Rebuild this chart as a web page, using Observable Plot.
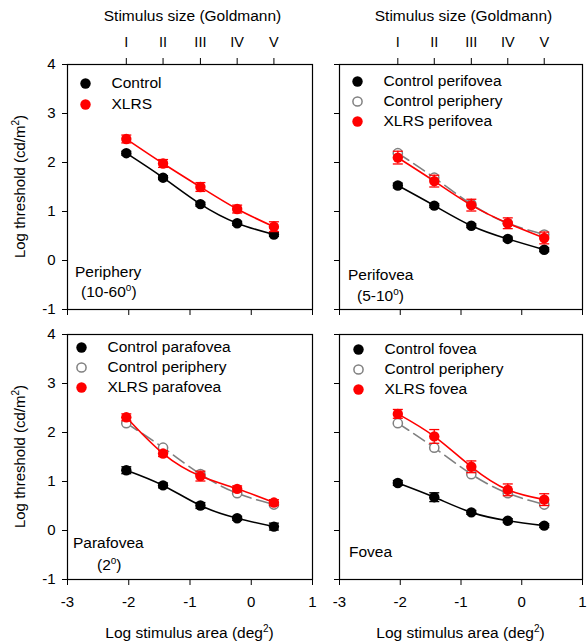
<!DOCTYPE html>
<html><head><meta charset="utf-8">
<script src="https://cdn.jsdelivr.net/npm/d3@7"></script>
<script src="https://cdn.jsdelivr.net/npm/@observablehq/plot@0.6"></script>
<style>
body{margin:0;background:#fff;font-family:"Liberation Sans",Arial,sans-serif;}
#chart{position:relative;width:587px;height:643px;background:#fff;}
#chart svg{position:absolute;overflow:visible;}
</style></head><body><div id="chart"></div>
<script>
// Goldmann stimulus sizes and their log areas (deg^2)
const logArea = [-2.04, -1.44, -0.83, -0.23, 0.37];
const goldmann = ["I", "II", "III", "IV", "V"];
const xTicks = [-3, -2, -1, 0, 1];
const yTicks = [-1, 0, 1, 2, 3, 4];

// Log threshold values (cd/m^2)
const controlPeriphery = [2.19, 1.69, 1.15, 0.76, 0.53];
const controlPeripheryErr = [0.04, 0.04, 0.04, 0.04, 0.04];
const xlrsPeriphery = [2.48, 1.98, 1.50, 1.05, 0.69];
const xlrsPeripheryErr = [0.08, 0.08, 0.09, 0.08, 0.10];
const controlPerifovea = [1.53, 1.12, 0.71, 0.44, 0.22];
const controlPerifoveaErr = [0.05, 0.04, 0.04, 0.04, 0.04];
const xlrsPerifovea = [2.10, 1.62, 1.13, 0.76, 0.46];
const xlrsPerifoveaErr = [0.13, 0.12, 0.12, 0.11, 0.12];
const controlParafovea = [1.23, 0.92, 0.51, 0.25, 0.08];
const controlParafoveaErr = [0.07, 0.05, 0.06, 0.04, 0.07];
const xlrsParafovea = [2.31, 1.57, 1.11, 0.85, 0.57];
const xlrsParafoveaErr = [0.07, 0.06, 0.10, 0.06, 0.06];
const controlFovea = [0.97, 0.68, 0.37, 0.20, 0.10];
const controlFoveaErr = [0.05, 0.09, 0.04, 0.04, 0.04];
const xlrsFovea = [2.38, 1.92, 1.30, 0.83, 0.63];
const xlrsFoveaErr = [0.09, 0.14, 0.12, 0.12, 0.12];

const styles = {
  black: {color: "#000000", open: false, dash: null},
  red:   {color: "#ff0000", open: false, dash: null},
  open:  {color: "#808080", open: true,  dash: "13,6"}
};

const panels = [
  {key: "tl", left: 0, top: 0, width: 320, height: 320, mL: 67, mR: 8, mT: 64, mB: 11, col: 0, row: 0,
   region: [["Periphery", null, null, 8, -37], ["(10-60", "o", ")", 14, -17]],
   legend: {dx: 18, dy: 19, step: 21, tx: 44},
   series: [
     {name: "Control", style: "black", y: controlPeriphery, err: controlPeripheryErr},
     {name: "XLRS", style: "red", y: xlrsPeriphery, err: xlrsPeripheryErr}]},
  {key: "tr", left: 320, top: 0, width: 267, height: 320, mL: 19, mR: 5, mT: 64, mB: 11, col: 1, row: 0,
   region: [["Perifovea", null, null, 9, -34], ["(5-10", "o", ")", 18, -13]],
   legend: {dx: 18, dy: 17, step: 20, tx: 44},
   series: [
     {name: "Control perifovea", style: "black", y: controlPerifovea, err: controlPerifoveaErr},
     {name: "Control periphery", style: "open", y: controlPeriphery, err: null},
     {name: "XLRS perifovea", style: "red", y: xlrsPerifovea, err: xlrsPerifoveaErr}]},
  {key: "bl", left: 0, top: 320, width: 320, height: 323, mL: 67, mR: 8, mT: 14, mB: 64, col: 0, row: 1,
   region: [["Parafovea", null, null, 6, -36], ["(2", "o", ")", 30, -14]],
   legend: {dx: 14, dy: 13, step: 20, tx: 40},
   series: [
     {name: "Control parafovea", style: "black", y: controlParafovea, err: controlParafoveaErr},
     {name: "Control periphery", style: "open", y: controlPeriphery, err: null},
     {name: "XLRS parafovea", style: "red", y: xlrsParafovea, err: xlrsParafoveaErr}]},
  {key: "br", left: 320, top: 320, width: 267, height: 323, mL: 19, mR: 5, mT: 14, mB: 64, col: 1, row: 1,
   region: [["Fovea", null, null, 10, -27]],
   legend: {dx: 19, dy: 15, step: 20, tx: 45},
   series: [
     {name: "Control fovea", style: "black", y: controlFovea, err: controlFoveaErr},
     {name: "Control periphery", style: "open", y: controlPeriphery, err: null},
     {name: "XLRS fovea", style: "red", y: xlrsFovea, err: xlrsFoveaErr}]}
];

const capSymbol = {draw(ctx, size) { const w = Math.sqrt(size / Math.PI); ctx.moveTo(-w, 0); ctx.lineTo(w, 0); }};
const drawOrder = {open: 0, black: 1, red: 2};
const FONT = "'Liberation Sans', Arial, sans-serif";

const chart = document.getElementById("chart");

function addSupText(g, x, y, main, sup, tail, size, supSize, anchor) {
  const t = g.append("text").attr("x", x).attr("y", y).attr("dy", "0.35em")
    .attr("font-size", size).attr("text-anchor", anchor);
  t.append("tspan").text(main);
  if (sup) {
    const shift = Math.round(size * 0.38);
    t.append("tspan").attr("font-size", supSize).attr("dy", -shift).text(sup);
    t.append("tspan").attr("dy", shift).text(tail);
  }
  return t;
}

for (const p of panels) {
  const marks = [];
  const ordered = [...p.series].sort((a, b) => drawOrder[a.style] - drawOrder[b.style]);
  for (const s of ordered) {
    const st = styles[s.style];
    const data = s.y.map((v, i) => ({x: logArea[i], y: v, e: s.err ? s.err[i] : 0}));
    marks.push(Plot.line(data, {x: "x", y: "y", curve: "natural", stroke: st.color, strokeWidth: 1.6,
      strokeDasharray: st.dash || undefined}));
    if (s.err) {
      marks.push(Plot.ruleX(data, {x: "x", y1: d => d.y - d.e, y2: d => d.y + d.e, stroke: st.color, strokeWidth: 1.3}));
      marks.push(Plot.dot(data, {x: "x", y: d => d.y + d.e, symbol: capSymbol, r: 5, stroke: st.color, strokeWidth: 1.3, fill: "none"}));
      marks.push(Plot.dot(data, {x: "x", y: d => d.y - d.e, symbol: capSymbol, r: 5, stroke: st.color, strokeWidth: 1.3, fill: "none"}));
    }
    if (st.open) {
      marks.push(Plot.dot(data, {x: "x", y: "y", r: 4.6, stroke: st.color, strokeWidth: 1.5, fill: "white"}));
    } else {
      marks.push(Plot.dot(data, {x: "x", y: "y", r: 5.2, fill: st.color, stroke: "none"}));
    }
  }
  // legend
  p.series.forEach((s, i) => {
    const st = styles[s.style];
    const dy = p.legend.dy + i * p.legend.step;
    marks.push(Plot.dot([s.name], st.open
      ? {frameAnchor: "top-left", dx: p.legend.dx, dy, r: 4.6, stroke: st.color, strokeWidth: 1.5, fill: "white"}
      : {frameAnchor: "top-left", dx: p.legend.dx, dy, r: 5.2, fill: st.color}));
    marks.push(Plot.text([s.name], {frameAnchor: "top-left", dx: p.legend.tx, dy, text: d => d,
      textAnchor: "start", lineAnchor: "middle", fontSize: 15.5, fill: "black"}));
  });
  // axes
  marks.push(Plot.axisY({anchor: "left", ticks: yTicks, tickSize: 5, tickPadding: 7, label: null,
    tickFormat: p.col === 0 ? (d => String(d)) : (() => ""), fontSize: 15}));
  marks.push(Plot.axisX({anchor: "bottom", ticks: xTicks, tickSize: 6, tickPadding: 11, label: null,
    tickFormat: p.row === 1 ? (d => String(d)) : (() => ""), fontSize: 15}));
  if (p.row === 0) {
    marks.push(Plot.axisX({anchor: "top", ticks: logArea, tickSize: 7, tickPadding: 11, label: null,
      tickFormat: d => goldmann[logArea.indexOf(d)], fontSize: 14.5}));
  }
  marks.push(Plot.frame({stroke: "black", strokeWidth: 1.2}));

  const svg = Plot.plot({
    width: p.width, height: p.height,
    marginLeft: p.mL, marginRight: p.mR, marginTop: p.mT, marginBottom: p.mB,
    x: {domain: [-3, 1]},
    y: {domain: [-1, 4]},
    style: {fontFamily: FONT, fontSize: "15px", color: "black", background: "transparent", overflow: "visible"},
    marks
  });
  svg.style.left = p.left + "px";
  svg.style.top = p.top + "px";

  const g = d3.select(svg).append("g").attr("font-family", FONT).attr("fill", "black");
  const fw = p.width - p.mL - p.mR, fh = p.height - p.mT - p.mB;
  const cx = p.mL + fw / 2, cy = p.mT + fh / 2, fb = p.height - p.mB;
  // region labels
  for (const [main, sup, tail, dx, dy] of p.region) {
    addSupText(g, p.mL + dx, fb + dy, main, sup, tail, 15.5, 10, "start");
  }
  // axis titles
  if (p.col === 0) {
    const t = addSupText(g, 0, 0, "Log threshold (cd/m", "2", ")", 15, 10, "middle");
    t.attr("transform", `translate(20,${cy}) rotate(-90)`);
  }
  if (p.row === 1) {
    addSupText(g, cx, fb + 54, "Log stimulus area (deg", "2", ")", 15.5, 10, "middle");
  }
  if (p.row === 0) {
    g.append("text").attr("x", cx + 3).attr("y", 16).attr("text-anchor", "middle").attr("dy", "0.35em")
      .attr("font-size", 15.5).text("Stimulus size (Goldmann)");
  }
  chart.appendChild(svg);
}
</script>
</body></html>
